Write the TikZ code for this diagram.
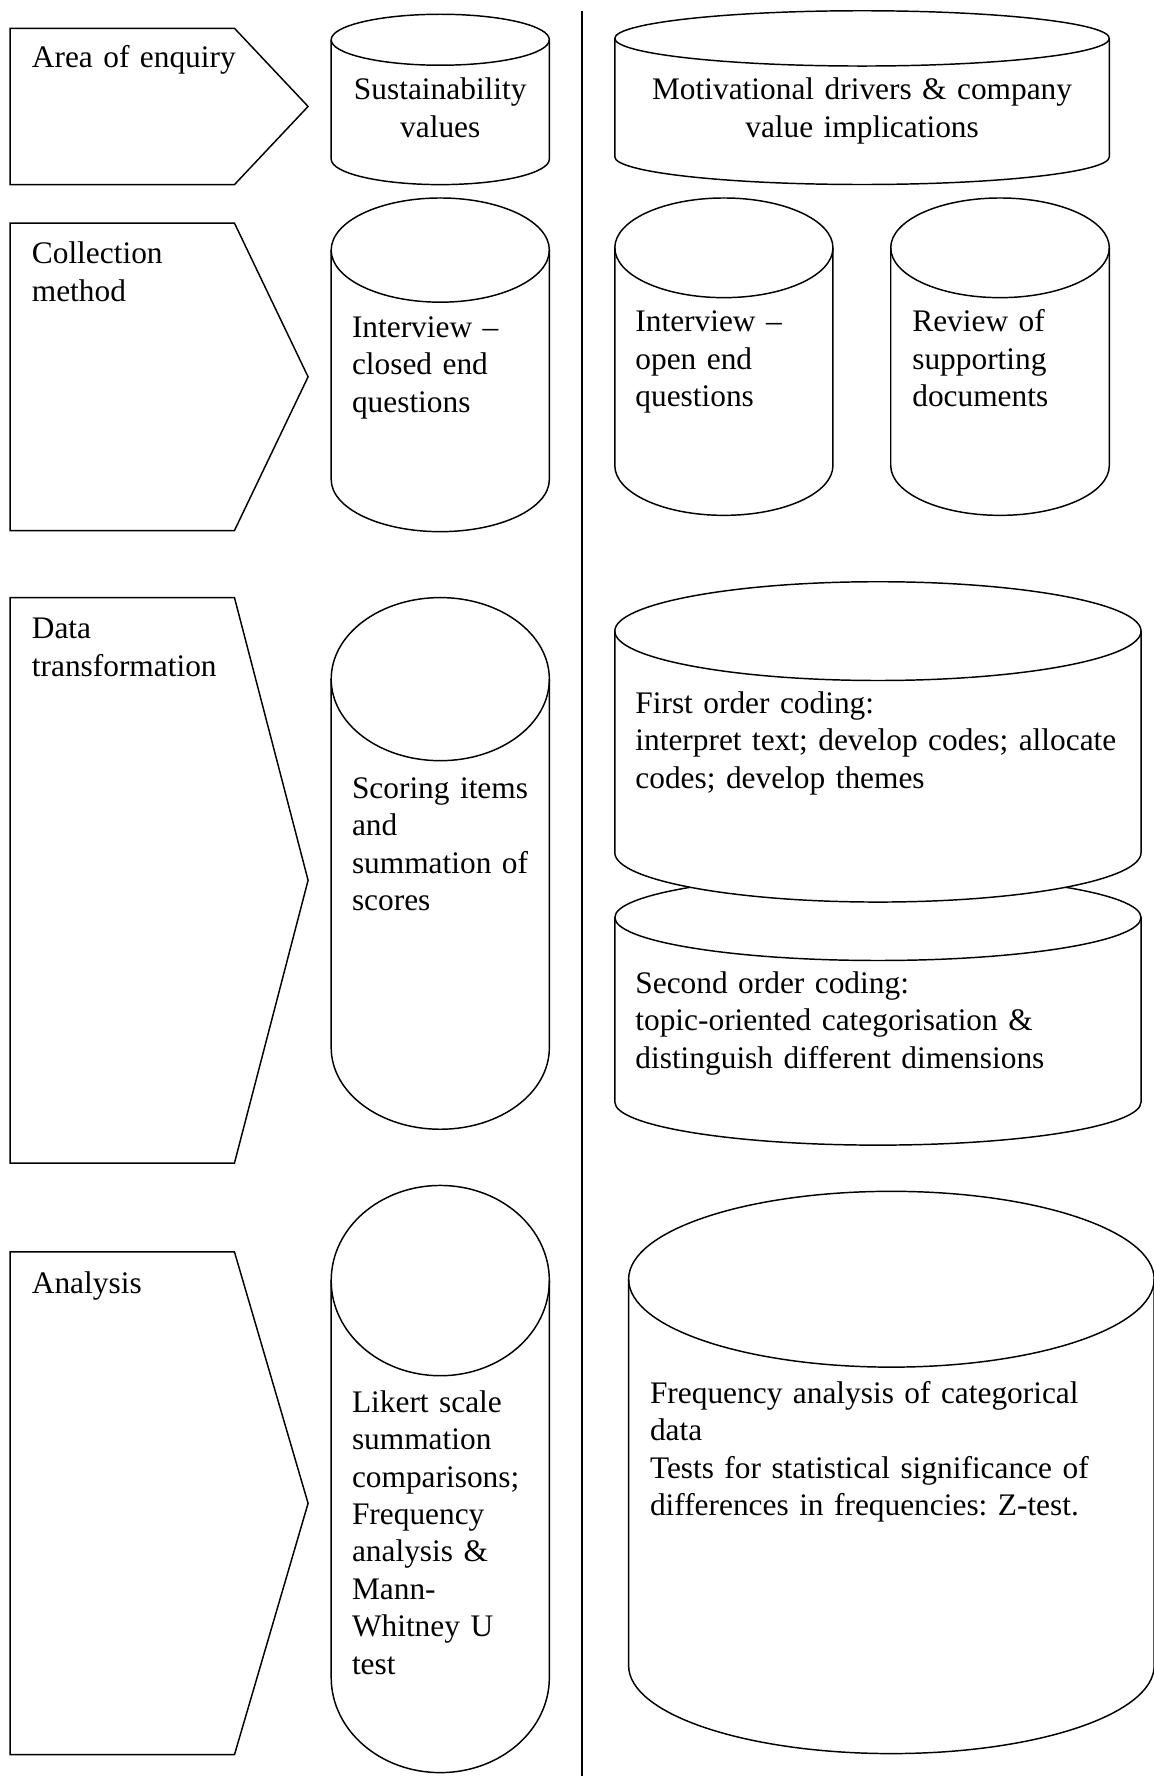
\documentclass[tikz,border=0pt]{standalone}
\usepackage{fontspec}
\setmainfont{Liberation Serif}
\usetikzlibrary{calc}
\frenchspacing

% can-shaped store: name, left, right, top, bottom, half-height of the end ellipses
% (top/bottom are measured downwards from the top edge of the picture)
\newcommand{\drawcan}[6]{%
  \pgfmathsetmacro{\canRx}{((#3)-(#2))/2}%
  \pgfmathsetmacro{\canYt}{-(#4)-(#6)}%
  \pgfmathsetmacro{\canYb}{-(#5)+(#6)}%
  \pgfmathsetmacro{\canCx}{((#2)+(#3))/2}%
  \draw[canbox] (#2,\canYt) -- (#2,\canYb)
     arc[start angle=180,end angle=360,x radius=\canRx,y radius=#6]
     -- (#3,\canYt)
     arc[start angle=0,end angle=180,x radius=\canRx,y radius=#6] -- cycle;
  \draw[canbox,fill=none] (#2,\canYt)
     arc[start angle=180,end angle=360,x radius=\canRx,y radius=#6];
  \coordinate (#1) at (\canCx,{(\canYt+\canYb)/2});
}

% arrow-shaped stage label: name, top, bottom
\newcommand{\drawstage}[3]{%
  \pgfmathsetmacro{\stTip}{-((#2)+(#3))/2}%
  \draw[stagebox] (9,-#2) -- (207,-#2) -- (272,\stTip) -- (207,-#3) -- (9,-#3) -- cycle;
  \coordinate (#1) at (140,\stTip);
}

\begin{document}
\begin{tikzpicture}[x=0.426pt,y=0.426pt,
  canbox/.style={draw=black,fill=white,line width=0.55pt,line join=round},
  stagebox/.style={draw=black,fill=white,line width=0.55pt,line join=miter},
  txt/.style={inner sep=0pt,font=\fontsize{11.8}{14.06}\selectfont\frenchspacing,text=black},
  lefttxt/.style={txt,anchor=base west,align=left,text width=260pt},
  midtxt/.style={txt,anchor=base,align=center}]

\useasboundingbox (0,0) rectangle (1018,-1568);
\fill[white] (0,0) rectangle (1018,-1568);

% divider between the two strands
\coordinate (divtop) at (513.8,-9.5);
\coordinate (divbot) at (513.8,-1568);
\draw[line width=0.6pt] (divtop) -- (divbot);

% stages
\drawstage{st1}{25}{163}
\drawstage{st2}{197}{468.4}
\drawstage{st3}{527.6}{1026.8}
\drawstage{st4}{1105.3}{1549.2}

\node[lefttxt] (lab1) at (27.7,-60) {Area of enquiry};
\node[lefttxt] (lab2) at (27.7,-233) {Collection\\method};
\node[lefttxt] (lab3) at (27.7,-564) {Data\\transformation};
\node[lefttxt] (lab4) at (27.7,-1142) {Analysis};

% quantitative strand
\drawcan{c1}{292.4}{485}{12.6}{163}{22.5}
\drawcan{c2}{292.4}{485}{174.8}{469.4}{46}
\drawcan{c6}{292.4}{485}{527.6}{997}{72}
\drawcan{c9}{292.4}{485}{1046.6}{1565}{84}

\node[midtxt,text width=80pt] (t1) at (388.7,-88) {Sustainability\\values};
\node[lefttxt] (t2) at (310.3,-298) {Interview --\\closed end\\questions};
\node[lefttxt] (t6) at (310.3,-705) {Scoring items\\and\\summation of\\scores};
\node[lefttxt] (t9) at (310.3,-1247) {Likert scale\\summation\\comparisons;\\Frequency\\analysis \&\\Mann-\\Whitney U\\test};

% qualitative strand
\drawcan{c3}{542.8}{979.4}{9.5}{162.9}{24.4}
\drawcan{c4}{542.8}{735.4}{174.8}{455}{44}
\drawcan{c5}{786.4}{979.4}{174.8}{455}{44}
\drawcan{c8}{542.8}{1007.4}{772}{1011}{38}
\drawcan{c7}{542.8}{1007.4}{513.6}{796.4}{43.6}
\drawcan{c10}{555}{1019}{1051.8}{1548.2}{77.6}

\node[midtxt,text width=180pt] (t3) at (761.1,-88) {Motivational drivers \& company\\value implications};
\node[lefttxt] (t4) at (560.5,-293) {Interview --\\open end\\questions};
\node[lefttxt] (t5) at (805,-293) {Review of\\supporting\\documents};
\node[lefttxt] (t7) at (560.5,-630) {First order coding:\\interpret text; develop codes; allocate\\codes; develop themes};
\node[lefttxt] (t8) at (560.5,-877) {Second order coding:\\topic-oriented categorisation \&\\distinguish different dimensions};
\node[lefttxt] (t10) at (573.4,-1239) {Frequency analysis of categorical\\data\\Tests for statistical significance of\\differences in frequencies: Z-test.};

\end{tikzpicture}
\end{document}
